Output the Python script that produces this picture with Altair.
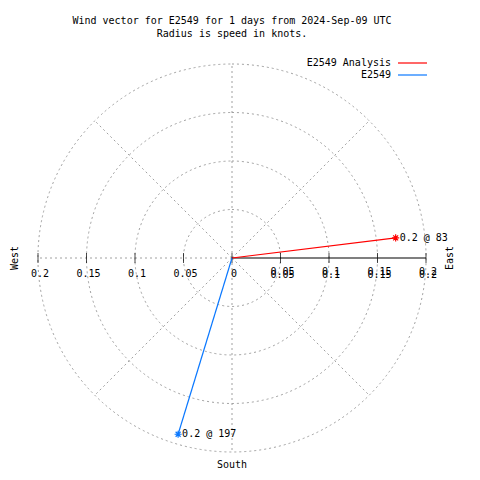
import altair as alt
import pandas as pd

# ---- data ----
series = ["E2549 Analysis", "E2549"]
speeds = [0.17, 0.19]          # knots
directions = [83, 197]         # degrees, clockwise from north
vector_labels = ["0.2 @ 83", "0.2 @ 197"]
colors = ["#ff0000", "#0a78ff"]

ring_radii = [0.05, 0.1, 0.15, 0.2]
spoke_angles = [0, 45, 135, 180, 225, 270, 315]
left_tick_values = [-0.2, -0.15, -0.1, -0.05, 0]
left_tick_labels = ["0.2", "0.15", "0.1", "0.05", "0"]
right_tick_values = [0.05, 0.1, 0.15, 0.2]
right_tick_labels = ["0.05", "0.1", "0.15", "0.2"]
compass = ["West", "East", "South"]

RMAX = 0.2
W = 388
FONT = "DejaVu Sans Mono"
GRID = "#a0a0a0"

xs = alt.Scale(domain=[-RMAX, RMAX], nice=False, zero=False)
ys = alt.Scale(domain=[-RMAX, RMAX], nice=False, zero=False)

vec = pd.DataFrame({"series": series, "speed": speeds, "dir": directions,
                    "label": vector_labels, "color": colors})
vec_base = alt.Chart(vec).transform_calculate(
    x="datum.speed*sin(datum.dir*PI/180)",
    y="datum.speed*cos(datum.dir*PI/180)",
    x0="0", y0="0")

# rings
rings = alt.Chart(pd.DataFrame({"r": ring_radii})).mark_arc(
    filled=False, stroke=GRID, strokeDash=[2, 3], strokeWidth=1,
    theta=0, theta2=6.2832
).encode(radius=alt.Radius("r:Q", stack=None,
                           scale=alt.Scale(type="linear", domain=[0, RMAX], range=[0, W / 2], zero=True)))

# spokes
spokes = alt.Chart(pd.DataFrame({"a": spoke_angles})).transform_calculate(
    x0="0", y0="0",
    x="%f*sin(datum.a*PI/180)" % RMAX,
    y="%f*cos(datum.a*PI/180)" % RMAX,
).mark_rule(stroke=GRID, strokeDash=[2, 3], strokeWidth=1).encode(
    x=alt.X("x0:Q", scale=xs, axis=None), y=alt.Y("y0:Q", scale=ys, axis=None),
    x2="x:Q", y2="y:Q")

# east axis
east_axis = alt.Chart(pd.DataFrame({"a": [0], "b": [RMAX]})).transform_calculate(
    z="0").mark_rule(color="black", strokeWidth=1.2).encode(
    x=alt.X("a:Q", scale=xs, axis=None), x2="b:Q", y=alt.Y("z:Q", scale=ys, axis=None))

ticks_df = pd.DataFrame({"v": left_tick_values + right_tick_values})
ticks = alt.Chart(ticks_df).transform_calculate(z="0").mark_tick(
    color="black", orient="vertical", size=10, thickness=1).encode(
    x=alt.X("v:Q", scale=xs, axis=None), y=alt.Y("z:Q", scale=ys, axis=None))

txt = dict(font=FONT, fontSize=10, color="black")

left_lab = alt.Chart(pd.DataFrame({"v": left_tick_values, "t": left_tick_labels})).transform_calculate(
    z="0").mark_text(baseline="middle", align="center", dy=16, dx=2, **txt).encode(
    x=alt.X("v:Q", scale=xs, axis=None), y=alt.Y("z:Q", scale=ys, axis=None), text="t:N")

right_df = pd.DataFrame({"v": right_tick_values, "t": right_tick_labels})
right_lab1 = alt.Chart(right_df).transform_calculate(z="0").mark_text(
    baseline="middle", align="center", dy=17, dx=2, **txt).encode(
    x=alt.X("v:Q", scale=xs, axis=None), y=alt.Y("z:Q", scale=ys, axis=None), text="t:N")
right_lab2 = alt.Chart(right_df).transform_calculate(z="0").mark_text(
    baseline="middle", align="center", dy=14, dx=2, **txt).encode(
    x=alt.X("v:Q", scale=xs, axis=None), y=alt.Y("z:Q", scale=ys, axis=None), text="t:N")

# compass labels (rotated text: dy moves horizontally)
west = alt.Chart(pd.DataFrame({"t": [compass[0]], "x": [-RMAX], "y": [0]})).mark_text(
    angle=270, baseline="middle", align="center", dy=-23, **txt).encode(
    x=alt.X("x:Q", scale=xs, axis=None), y=alt.Y("y:Q", scale=ys, axis=None), text="t:N")
east = alt.Chart(pd.DataFrame({"t": [compass[1]], "x": [RMAX], "y": [0]})).mark_text(
    angle=270, baseline="middle", align="center", dy=24, **txt).encode(
    x=alt.X("x:Q", scale=xs, axis=None), y=alt.Y("y:Q", scale=ys, axis=None), text="t:N")
south = alt.Chart(pd.DataFrame({"t": [compass[2]], "x": [0], "y": [-RMAX]})).mark_text(
    baseline="middle", align="center", dy=13, **txt).encode(
    x=alt.X("x:Q", scale=xs, axis=None), y=alt.Y("y:Q", scale=ys, axis=None), text="t:N")

color_scale = alt.Scale(domain=series, range=colors)

vectors = vec_base.mark_rule(strokeWidth=1.2).encode(
    x=alt.X("x0:Q", scale=xs, axis=None), y=alt.Y("y0:Q", scale=ys, axis=None),
    x2="x:Q", y2="y:Q",
    color=alt.Color("series:N", scale=color_scale, legend=None))

STAR = "M-1,0L1,0M0,-1L0,1M-0.7,-0.7L0.7,0.7M-0.7,0.7L0.7,-0.7"
stars = vec_base.mark_point(shape=STAR, filled=False, size=50, strokeWidth=1.2, opacity=1).encode(
    x=alt.X("x:Q", scale=xs, axis=None), y=alt.Y("y:Q", scale=ys, axis=None),
    color=alt.Color("series:N", scale=color_scale, legend=None))

vlabels = vec_base.mark_text(align="left", baseline="middle", dx=4, **txt).encode(
    x=alt.X("x:Q", scale=xs, axis=None), y=alt.Y("y:Q", scale=ys, axis=None), text="label:N")

# legend (drawn manually, label to the left of the line)
leg_layers = []
for i, (s, c) in enumerate(zip(series, colors)):
    yy = -1 + 12 * i
    leg_layers.append(alt.Chart(pd.DataFrame({"t": [s]})).mark_text(
        align="right", baseline="middle", **txt).encode(
        x=alt.value(353), y=alt.value(yy), text="t:N"))
    leg_layers.append(alt.Chart(pd.DataFrame({"t": [s]})).mark_rule(
        color=c, strokeWidth=1.2).encode(
        x=alt.value(360), x2=alt.value(389), y=alt.value(yy)))

chart = alt.layer(
    rings, spokes, east_axis, ticks, left_lab, right_lab1, right_lab2,
    west, east, south, vectors, stars, vlabels, *leg_layers
).properties(
    width=W, height=W,
    autosize=alt.AutoSizeParams(type="none"),
    padding={"left": 30, "top": 56, "right": 46, "bottom": 20},
    title=alt.TitleParams(
        ["Wind vector for E2549 for 1 days from 2024-Sep-09 UTC", "Radius is speed in knots."],
        font=FONT, fontSize=10, fontWeight="normal", color="black",
        anchor="middle", frame="group", lineHeight=13, offset=19),
).configure_view(stroke=None)

chart.save("out.html", embed_options={"renderer": "svg", "actions": False})
